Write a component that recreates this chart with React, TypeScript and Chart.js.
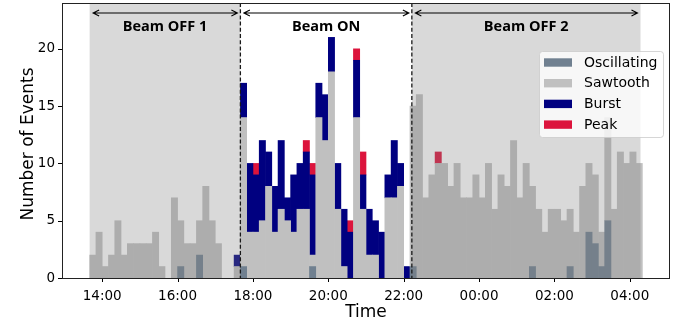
import { useEffect, useRef } from 'react';
import { Chart, registerables } from 'chart.js';

Chart.register(...registerables);

// ---- data (10-minute bins starting 13:40, ending 04:20 next day) ----
const firstBinStart = '13:40';
const binMinutes = 10;

const oscillating = [
  0, 0, 0, 0, 0, 0, 0, 0, 0, 0, 0, 0, 0, 0, 1, 0, 0, 2, 0, 0, 0, 0, 0, 0,
  1, 0, 0, 0, 0, 0, 0, 0, 0, 0, 0, 1, 0, 0, 0, 0, 0, 0, 0, 0, 0, 0, 0, 0, 0, 0, 0,
  1, 0, 0, 0, 0, 0, 0, 0, 0, 0, 0, 0, 0, 0, 0, 0, 0, 0, 0, 1, 0, 0, 0, 0, 0, 1, 0, 0, 4, 3, 1, 5, 0, 0, 0, 0, 0,
];
const sawtooth = [
  2, 4, 1, 2, 5, 2, 3, 3, 3, 3, 4, 1, 0, 7, 4, 3, 3, 3, 8, 5, 3, 0, 0, 1,
  13, 4, 4, 5, 8, 4, 6, 5, 4, 6, 6, 1, 14, 12, 18, 6, 1, 0, 14, 6, 2, 2, 0, 7, 7, 8, 0,
  14, 16, 7, 9, 10, 10, 8, 10, 7, 7, 9, 7, 10, 6, 9, 8, 12, 7, 10, 7, 6, 4, 6, 6, 5, 5, 4, 8, 6, 6, 3, 9, 6, 11, 10, 11, 10,
];
const burst = [
  0, 0, 0, 0, 0, 0, 0, 0, 0, 0, 0, 0, 0, 0, 0, 0, 0, 0, 0, 0, 0, 0, 0, 1,
  3, 6, 5, 7, 3, 4, 6, 2, 5, 4, 5, 7, 3, 4, 3, 4, 5, 4, 5, 3, 4, 3, 4, 2, 5, 2, 1,
  0, 0, 0, 0, 0, 0, 0, 0, 0, 0, 0, 0, 0, 0, 0, 0, 0, 0, 0, 0, 0, 0, 0, 0, 0, 0, 0, 0, 0, 0, 0, 0, 0, 0, 0, 0, 0,
];
const peak = [
  0, 0, 0, 0, 0, 0, 0, 0, 0, 0, 0, 0, 0, 0, 0, 0, 0, 0, 0, 0, 0, 0, 0, 0,
  0, 0, 1, 0, 0, 0, 0, 0, 0, 0, 1, 1, 0, 0, 0, 0, 0, 1, 1, 2, 0, 0, 0, 0, 0, 0, 0,
  0, 0, 0, 0, 1, 0, 0, 0, 0, 0, 0, 0, 0, 0, 0, 0, 0, 0, 0, 0, 0, 0, 0, 0, 0, 0, 0, 0, 0, 0, 0, 0, 0, 0, 0, 0, 0,
];

const seriesNames = ['Oscillating', 'Sawtooth', 'Burst', 'Peak'];
const seriesColors = ['#708090', '#c0c0c0', '#000080', '#dc143c'];

const xTickLabels = ['14:00', '16:00', '18:00', '20:00', '22:00', '00:00', '02:00', '04:00'];
const yTickValues = [0, 5, 10, 15, 20];
const xRange = ['12:56', '05:04'];
const yMax = 24;

const periodLabels = ['Beam OFF 1', 'Beam ON', 'Beam OFF 2'];
const periodStarts = ['13:40', '17:40', '22:13'];
const periodEnds = ['17:40', '22:13', '04:17'];
const periodBeamOff = [true, false, true];

function toMinutes(hhmm: string): number {
  const [h, m] = hhmm.split(':').map(Number);
  return (h < 12 ? h + 24 : h) * 60 + m;
}

const binCenters = oscillating.map(
  (_, i) => toMinutes(firstBinStart) + i * binMinutes + binMinutes / 2
);
const xTickValues = xTickLabels.map(toMinutes);
const seriesValues = [oscillating, sawtooth, burst, peak];

const FONT = "'DejaVu Sans', sans-serif";

const overlayPlugin = {
  id: 'overlayPlugin',
  afterDatasetsDraw(chart: any) {
    const { ctx, chartArea: ca, scales } = chart;
    const x = scales.x;
    ctx.save();
    ctx.beginPath();
    ctx.rect(ca.left, ca.top, ca.right - ca.left, ca.bottom - ca.top);
    ctx.clip();
    // shaded beam-off periods
    ctx.fillStyle = 'rgba(128,128,128,0.3)';
    periodLabels.forEach((_, i) => {
      if (!periodBeamOff[i]) return;
      const x0 = x.getPixelForValue(toMinutes(periodStarts[i]));
      const x1 = x.getPixelForValue(toMinutes(periodEnds[i]));
      ctx.fillRect(x0, ca.top, x1 - x0, ca.bottom - ca.top);
    });
    // dashed boundaries of beam-on period
    const onIdx = periodBeamOff.indexOf(false);
    ctx.strokeStyle = '#1a1a1a';
    ctx.lineWidth = 1.3;
    ctx.setLineDash([4, 2.2]);
    [periodStarts[onIdx], periodEnds[onIdx]].forEach((t) => {
      const px = x.getPixelForValue(toMinutes(t));
      ctx.beginPath();
      ctx.moveTo(px, ca.top);
      ctx.lineTo(px, ca.bottom);
      ctx.stroke();
    });
    ctx.setLineDash([]);
    // arrows + labels
    const ay = ca.top + 10;
    ctx.strokeStyle = '#000';
    ctx.lineWidth = 1.1;
    periodLabels.forEach((label, i) => {
      const x0 = x.getPixelForValue(toMinutes(periodStarts[i])) + 3.5;
      const x1 = x.getPixelForValue(toMinutes(periodEnds[i])) - 3;
      ctx.beginPath();
      ctx.moveTo(x0, ay);
      ctx.lineTo(x1, ay);
      ctx.moveTo(x0 + 6, ay - 3);
      ctx.lineTo(x0, ay);
      ctx.lineTo(x0 + 6, ay + 3);
      ctx.moveTo(x1 - 6, ay - 3);
      ctx.lineTo(x1, ay);
      ctx.lineTo(x1 - 6, ay + 3);
      ctx.stroke();
      ctx.fillStyle = '#000';
      ctx.font = "bold 14.5px 'Open Sans', sans-serif";
      ctx.textAlign = 'center';
      ctx.textBaseline = 'alphabetic';
      const cx = (x.getPixelForValue(toMinutes(periodStarts[i])) + x.getPixelForValue(toMinutes(periodEnds[i]))) / 2;
      ctx.fillText(label, cx, ca.top + 28);
    });
    ctx.restore();
  },
  afterDraw(chart: any) {
    const { ctx, chartArea: ca, scales } = chart;
    ctx.save();
    // tick marks (outside, matplotlib style) and tick labels
    ctx.strokeStyle = '#000';
    ctx.lineWidth = 1;
    ctx.beginPath();
    xTickValues.forEach((v) => {
      const px = Math.round(scales.x.getPixelForValue(v)) + 0.5;
      ctx.moveTo(px, ca.bottom);
      ctx.lineTo(px, ca.bottom + 4);
    });
    yTickValues.forEach((v) => {
      const py = Math.round(scales.y.getPixelForValue(v)) + 0.5;
      ctx.moveTo(ca.left, py);
      ctx.lineTo(ca.left - 4, py);
    });
    ctx.stroke();
    ctx.fillStyle = '#000';
    ctx.font = `13.5px ${FONT}`;
    ctx.textAlign = 'center';
    ctx.textBaseline = 'alphabetic';
    xTickValues.forEach((v, i) => {
      ctx.fillText(xTickLabels[i], scales.x.getPixelForValue(v), ca.bottom + 22);
    });
    ctx.textAlign = 'right';
    ctx.textBaseline = 'middle';
    yTickValues.forEach((v) => {
      ctx.fillText(String(v), ca.left - 7, scales.y.getPixelForValue(v));
    });
    // frame
    ctx.strokeStyle = '#222';
    ctx.lineWidth = 1;
    ctx.strokeRect(Math.round(ca.left) + 0.5, Math.round(ca.top) + 0.5, Math.round(ca.right - ca.left) - 1, Math.round(ca.bottom - ca.top) - 0);
    // legend
    const lx = ca.right - 131;
    const ly = ca.top + 48;
    const lw = 124;
    const lh = 86;
    ctx.beginPath();
    (ctx as any).roundRect(lx + 0.5, ly + 0.5, lw, lh, 3);
    ctx.fillStyle = 'rgba(255,255,255,0.8)';
    ctx.fill();
    ctx.strokeStyle = 'rgba(204,204,204,0.8)';
    ctx.stroke();
    ctx.font = `14px ${FONT}`;
    ctx.textAlign = 'left';
    ctx.textBaseline = 'middle';
    seriesNames.forEach((name, i) => {
      const cy = ly + 11.5 + i * 20.7;
      ctx.fillStyle = seriesColors[i];
      ctx.fillRect(lx + 5, cy - 4.2, 28, 8.4);
      ctx.fillStyle = '#000';
      ctx.fillText(name, lx + 45, cy + 0.5);
    });
    // axis titles
    ctx.font = `17px ${FONT}`;
    ctx.fillStyle = '#000';
    ctx.textAlign = 'center';
    ctx.textBaseline = 'alphabetic';
    ctx.fillText('Time', (ca.left + ca.right) / 2, 317);
    ctx.translate(32.5, 144);
    ctx.rotate(-Math.PI / 2);
    ctx.fillText('Number of Events', 0, 0);
    ctx.restore();
  },
};

export default function App() {
  const canvasRef = useRef<HTMLCanvasElement | null>(null);

  useEffect(() => {
    const canvas = canvasRef.current;
    if (!canvas) return;
    const chart = new Chart(canvas, {
      type: 'bar',
      data: {
        datasets: seriesNames.map((name, s) => ({
          label: name,
          // empty bins are left out so no zero-height slivers are drawn
          data: binCenters.map((xv, i) => ({ x: xv, y: seriesValues[s][i] === 0 ? null : seriesValues[s][i] })),
          backgroundColor: seriesColors[s],
          borderWidth: 0,
          barPercentage: 1,
          categoryPercentage: 1,
        })),
      },
      options: {
        animation: false,
        responsive: false,
        devicePixelRatio: 1,
        layout: { padding: { left: 0, right: 13, top: 3, bottom: 0 } },
        plugins: { legend: { display: false }, tooltip: { enabled: false } },
        scales: {
          x: {
            type: 'linear',
            min: toMinutes(xRange[0]),
            max: toMinutes(xRange[1]),
            stacked: true,
            offset: false,
            afterBuildTicks: (s: any) => {
              s.ticks = xTickValues.map((v) => ({ value: v }));
            },
            afterFit: (s: any) => {
              s.height = 46;
              s.paddingLeft = 0;
              s.paddingRight = 0;
            },
            ticks: { display: false },
            grid: { display: false, offset: false },
            border: { display: false },
          },
          y: {
            min: 0,
            max: yMax,
            stacked: true,
            afterBuildTicks: (s: any) => {
              s.ticks = yTickValues.map((v) => ({ value: v }));
            },
            afterFit: (s: any) => {
              s.width = 62;
              s.paddingTop = 0;
              s.paddingBottom = 0;
            },
            ticks: { display: false },
            grid: { display: false },
            border: { display: false },
          },
        },
      } as any,
      plugins: [overlayPlugin],
    });
    return () => chart.destroy();
  }, []);

  return (
    <div style={{ position: 'fixed', left: 0, top: 0, width: 683, height: 324, background: '#fff' }}>
      <canvas ref={canvasRef} width={683} height={324} style={{ width: 683, height: 324, display: 'block' }} />
    </div>
  );
}
